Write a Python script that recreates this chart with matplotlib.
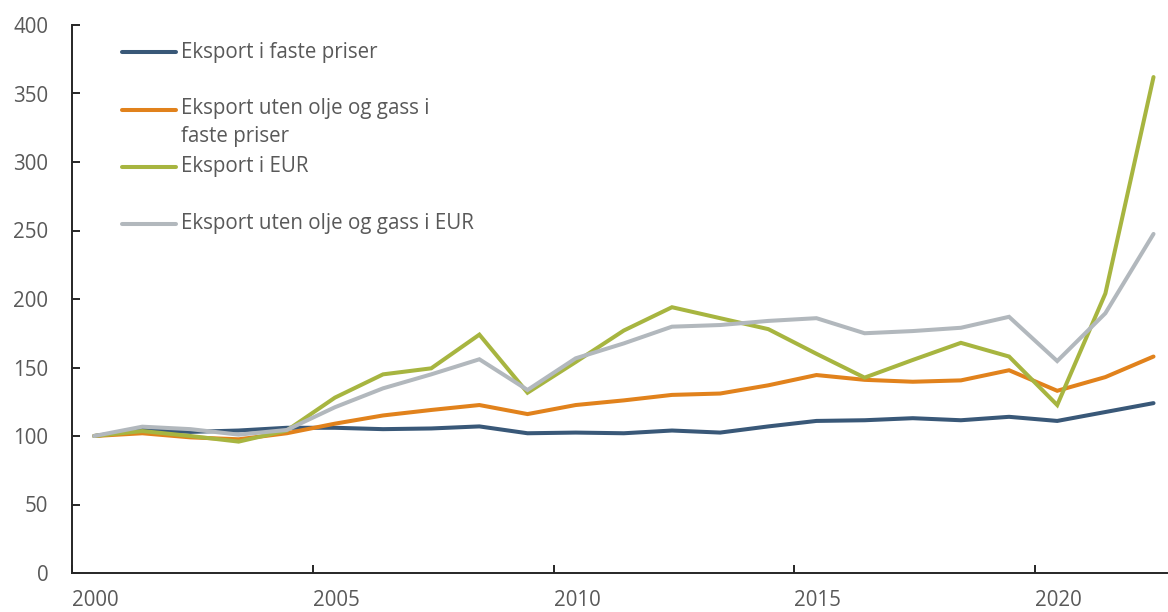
import matplotlib
matplotlib.use("Agg")
import matplotlib.pyplot as plt
from matplotlib.lines import Line2D

years = list(range(2000, 2023))

eksport_faste = [100, 104.5, 103, 104, 106, 106, 105, 105.5, 107, 102, 102.5, 102, 104, 102.5,
                 107, 111, 111.5, 113, 111.5, 114, 111, 117.5, 124]
uten_olje_faste = [100, 102, 99, 97.6, 102, 109, 115, 119, 122.6, 116, 122.6, 126, 130, 131,
                   137, 144.5, 141, 139.6, 140.6, 148, 133, 143, 158]
eksport_eur = [100, 103.6, 100, 95.9, 104, 128, 145, 149.4, 174, 131.6, 154, 177, 194, 186,
               178, 160, 142.6, 155.5, 168, 158, 122.6, 204, 362]
uten_olje_eur = [100, 106.8, 105, 101, 104.4, 121, 134.8, 145, 156, 133.6, 156.7, 167.6, 179.8,
                 181, 184, 186, 175, 176.6, 179, 187, 154.7, 189.6, 247.5]

series = [
    ("Eksport i faste priser", eksport_faste, "#395878"),
    ("Eksport uten olje og gass i\nfaste priser", uten_olje_faste, "#E1821C"),
    ("Eksport i EUR", eksport_eur, "#A7B540"),
    ("Eksport uten olje og gass i EUR", uten_olje_eur, "#B2B8BD"),
]

x_ticks = [2000, 2005, 2010, 2015, 2020]
y_ticks = [0, 50, 100, 150, 200, 250, 300, 350, 400]

text_color = "#595959"
fsize = 14.8
plt.rcParams["font.family"] = ["Open Sans", "DejaVu Sans"]

fig = plt.figure(figsize=(11.68, 6.12), dpi=100)
ax = fig.add_axes([72 / 1168, 39 / 612, 1095 / 1168, 548 / 612])

# data points sit mid-year on a yearly date axis
xs = [y + 0.46 for y in years]
for label, vals, color in series:
    ax.plot(xs, vals, color=color, lw=2.9, solid_capstyle="round", solid_joinstyle="miter",
            clip_on=False)

ax.set_xlim(2000, 2022.74)
ax.set_ylim(0, 400)
ax.set_xticks(x_ticks)
ax.set_xticklabels([str(t) for t in x_ticks], ha="left")
ax.set_yticks(y_ticks)

for side in ("top", "right"):
    ax.spines[side].set_visible(False)
for side in ("left", "bottom"):
    ax.spines[side].set_color("#262626")
    ax.spines[side].set_linewidth(1.4)

ax.tick_params(axis="both", direction="in", colors="#262626", labelcolor=text_color,
               labelsize=fsize, width=1.4)
ax.tick_params(axis="x", length=6, pad=12)
ax.tick_params(axis="y", length=6, pad=17)

# manual legend, upper left
leg_y = [0.9507, 0.845, 0.741, 0.637]
for (label, vals, color), yy in zip(series, leg_y):
    ax.add_line(Line2D([0.0456, 0.0949], [yy, yy], transform=ax.transAxes, color=color,
                       lw=2.9, solid_capstyle="round"))
    if "\n" in label:
        ax.text(0.0995, yy + 0.022, label, transform=ax.transAxes, va="top", ha="left",
                fontsize=fsize, color=text_color, linespacing=1.45)
    else:
        ax.text(0.0995, yy, label, transform=ax.transAxes, va="center", ha="left",
                fontsize=fsize, color=text_color)

fig.savefig("out.png", dpi=100)
